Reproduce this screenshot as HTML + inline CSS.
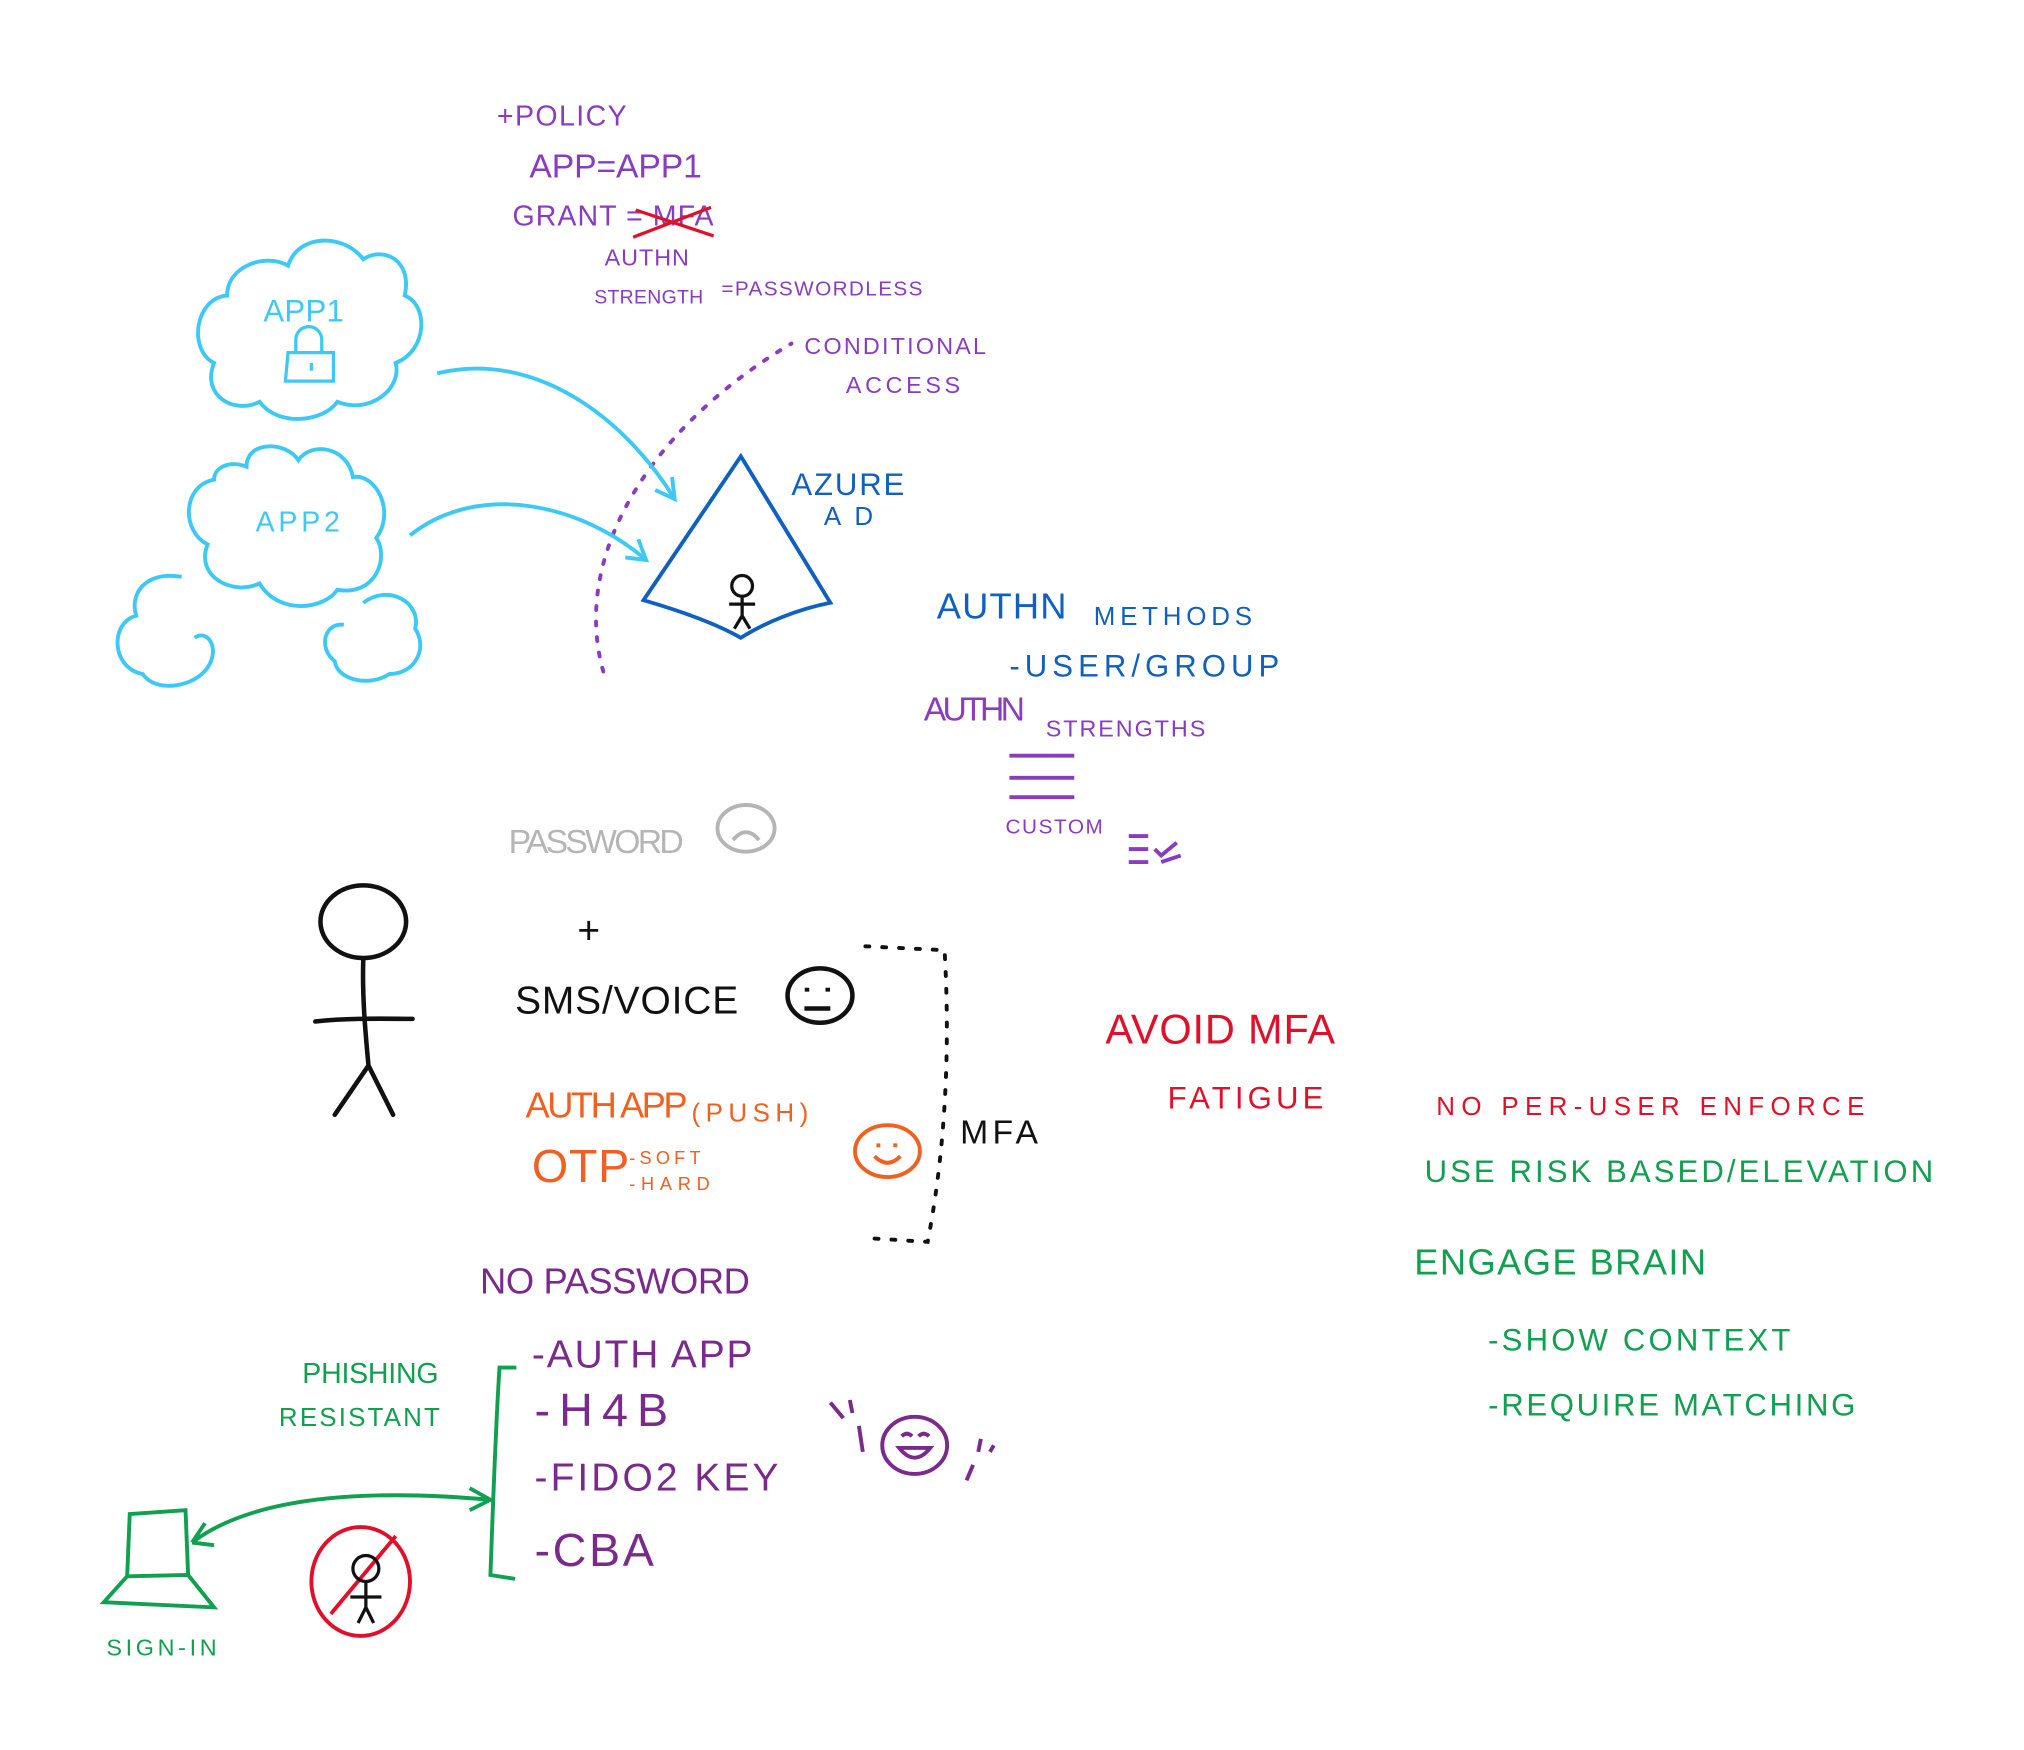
<!DOCTYPE html>
<html><head><meta charset="utf-8"><style>html,body{margin:0;padding:0;background:#fff}svg{display:block}text{font-family:"Liberation Sans",sans-serif}</style></head>
<body>
<svg width="2024" height="1750" viewBox="0 0 1560 1350" preserveAspectRatio="none" xmlns="http://www.w3.org/2000/svg">
<rect width="1560" height="1350" fill="#fff"/>
<g fill="#8a3cc0">
<text x="383" y="97" font-size="22" textLength="100">+POLICY</text>
<text x="408" y="137" font-size="26" textLength="133">APP=APP1</text>
<text x="395" y="174" font-size="22" textLength="155">GRANT = MFA</text>
<text x="466" y="205" font-size="18" textLength="65">AUTHN</text>
<text x="458" y="234" font-size="15" textLength="84">STRENGTH</text>
<text x="556" y="228" font-size="16" textLength="155">=PASSWORDLESS</text>
<text x="620" y="273" font-size="18" textLength="140">CONDITIONAL</text>
<text x="652" y="303" font-size="18" textLength="88">ACCESS</text>
</g>
<path d="M488 183 L548 160 M490 162 L550 182" stroke="#e0102a" stroke-width="2.5" fill="none"/>
<path d="M465 518 C 440 430, 500 330, 610 265" stroke="#8a3cc0" stroke-width="3" fill="none" stroke-dasharray="3 9" stroke-linecap="round"/>
<g stroke="#3ec8f5" stroke-width="3" fill="none">
<path d="M175 228 C150 230 145 270 165 280 C155 305 180 320 200 310 C215 330 250 325 260 310 C285 320 310 300 305 280 C330 270 330 235 312 228 C318 200 295 190 280 200 C265 180 230 180 222 205 C205 195 175 205 175 228 Z"/>
<path d="M165 370 C140 375 140 410 160 420 C150 445 180 460 200 450 C215 475 250 470 260 455 C290 460 300 430 290 415 C305 395 290 365 272 368 C268 345 240 340 230 355 C220 340 190 340 190 360 C178 355 165 360 165 370 Z"/>
<path d="M140 445 C110 440 100 460 105 475 C85 480 85 515 110 520 C120 535 150 530 160 515 C170 500 160 485 150 492"/>
<path d="M280 465 C300 450 325 465 320 485 C330 500 320 520 300 520 C285 530 260 525 258 510 C245 500 250 480 265 482"/>
</g>
<g fill="#3ec8f5">
<text x="203" y="248" font-size="24" textLength="62">APP1</text>
<text x="197" y="410" font-size="22" textLength="65">APP2</text>
</g>
<path d="M222 272 h35 v22 h-37 z M228 272 v-10 a10 10 0 0 1 20 0 v10 M240 280 v6" stroke="#3ec8f5" stroke-width="2.5" fill="none"/>
<g stroke="#3ec8f5" stroke-width="3" fill="none">
<path d="M337 288 C410 270, 480 320, 520 385"/>
<path d="M505 378 L520 385 L518 368"/>
<path d="M316 413 C370 370, 450 390, 498 432"/>
<path d="M482 430 L498 432 L492 416"/>
</g>
<g stroke="#1060c0" stroke-width="3" fill="none">
<path d="M571 352 L496 463 C520 470 550 480 571 492 C590 480 615 470 640 465 Z"/>
</g>
<g stroke="#111" stroke-width="2.5" fill="none">
<circle cx="572" cy="452" r="8"/><path d="M572 460 v15 M562 466 h20 M572 475 l-6 10 M572 475 l6 10"/>
</g>
<g fill="#1060c0">
<text x="610" y="382" font-size="24" textLength="87">AZURE</text>
<text x="635" y="405" font-size="20" textLength="38">AD</text>
<text x="722" y="477" font-size="28" textLength="100">AUTHN</text>
<text x="843" y="482" font-size="20" textLength="122">METHODS</text>
<text x="778" y="522" font-size="24" textLength="208">-USER/GROUP</text>
</g>
<g fill="#8a3cc0">
<text x="712" y="556" font-size="26" textLength="78">AUTHN</text>
<text x="806" y="568" font-size="18" textLength="123">STRENGTHS</text>
<text x="775" y="643" font-size="16" textLength="75">CUSTOM</text>
</g>
<g stroke="#8a3cc0" stroke-width="3" fill="none">
<path d="M778 583 h50 M778 600 h50 M778 615 h50 M870 645 h15 M870 655 h15 M870 665 h15 M890 655 l5 5 l12 -10 M895 665 l15 -5"/>
</g>
<text x="392" y="658" font-size="26" fill="#b5b5b5" textLength="135">PASSWORD</text>
<g stroke="#b5b5b5" stroke-width="3" fill="none"><ellipse cx="575" cy="639" rx="22" ry="18"/><path d="M565 648 q10 -12 20 0"/></g>
<g stroke="#111" stroke-width="3.5" fill="none" stroke-linecap="round">
<ellipse cx="280" cy="711" rx="33" ry="28"/>
<path d="M280 740 C279 770 282 800 284 822 M243 788 C270 785 300 786 318 786 M284 822 L258 860 M284 822 L303 860"/>
</g>
<text x="445" y="728" font-size="30" fill="#111">+</text>
<text x="397" y="782" font-size="30" fill="#111" textLength="172">SMS/VOICE</text>
<g stroke="#111" stroke-width="3.5" fill="none"><ellipse cx="632" cy="768" rx="25" ry="21"/><path d="M622 762 v3 M638 762 v3 M620 778 h20"/></g>
<g fill="#f06020">
<text x="405" y="862" font-size="28" textLength="125">AUTH APP</text>
<text x="533" y="865" font-size="20" textLength="90">(PUSH)</text>
<text x="410" y="912" font-size="36" textLength="75">OTP</text>
<text x="485" y="898" font-size="14" textLength="55">-SOFT</text>
<text x="485" y="918" font-size="14" textLength="62">-HARD</text>
</g>
<g stroke="#f06020" stroke-width="3" fill="none"><ellipse cx="684" cy="888" rx="25" ry="20"/><path d="M677 882 v3 M690 882 v3 M674 892 q10 10 20 0"/></g>
<path d="M667 730 L728 733 C732 800 730 880 715 958 L667 955" stroke="#111" stroke-width="3" fill="none" stroke-dasharray="3 10" stroke-linecap="round"/>
<text x="740" y="882" font-size="26" fill="#111" textLength="60">MFA</text>
<g fill="#e0102a">
<text x="852" y="805" font-size="32" textLength="177">AVOID MFA</text>
<text x="900" y="855" font-size="24" textLength="120">FATIGUE</text>
<text x="1107" y="860" font-size="20" textLength="330">NO  PER-USER  ENFORCE</text>
</g>
<g fill="#10a050">
<text x="1098" y="912" font-size="24" textLength="392">USE RISK BASED/ELEVATION</text>
<text x="1090" y="983" font-size="28" textLength="225">ENGAGE  BRAIN</text>
<text x="1147" y="1042" font-size="24" textLength="233">-SHOW CONTEXT</text>
<text x="1147" y="1092" font-size="24" textLength="283">-REQUIRE MATCHING</text>
<text x="233" y="1067" font-size="22" textLength="105">PHISHING</text>
<text x="215" y="1100" font-size="20" textLength="124">RESISTANT</text>
<text x="82" y="1277" font-size="18" textLength="85">SIGN-IN</text>
</g>
<g fill="#7a2a8a">
<text x="370" y="998" font-size="28" textLength="208">NO PASSWORD</text>
<text x="410" y="1055" font-size="30" textLength="170">-AUTH APP</text>
<text x="412" y="1100" font-size="36" textLength="103">-H4B</text>
<text x="412" y="1150" font-size="30" textLength="188">-FIDO2 KEY</text>
<text x="412" y="1208" font-size="36" textLength="92">-CBA</text>
</g>
<g stroke="#7a2a8a" stroke-width="3" fill="none"><ellipse cx="705" cy="1115" rx="25" ry="22"/><path d="M695 1108 q4 -4 8 0 M708 1108 q4 -4 8 0 M693 1117 q12 15 24 0 z M640 1082 l10 12 M655 1080 l2 10 M662 1100 l3 20 M756 1110 l-2 10 M766 1115 l-3 5 M750 1130 l-5 12"/></g>
<g stroke="#10a050" stroke-width="3" fill="none">
<path d="M398 1055 L385 1055 C382 1100 380 1160 378 1215 L397 1218"/>
<path d="M148 1190 C200 1150, 300 1150, 378 1157 M362 1148 L378 1157 L362 1165 M148 1190 L158 1175 M148 1190 L165 1192"/>
<path d="M100 1168 L143 1165 L145 1215 L98 1216 Z M98 1216 L80 1236 L165 1240 L145 1215"/>
</g>
<g stroke="#e0102a" stroke-width="3" fill="none"><ellipse cx="278" cy="1220" rx="38" ry="42"/><path d="M255 1245 L305 1185"/></g>
<g stroke="#111" stroke-width="2.5" fill="none"><circle cx="282" cy="1210" r="10"/><path d="M282 1220 v20 M270 1232 h24 M282 1240 l-6 12 M282 1240 l6 12"/></g>
</svg>
</body></html>
